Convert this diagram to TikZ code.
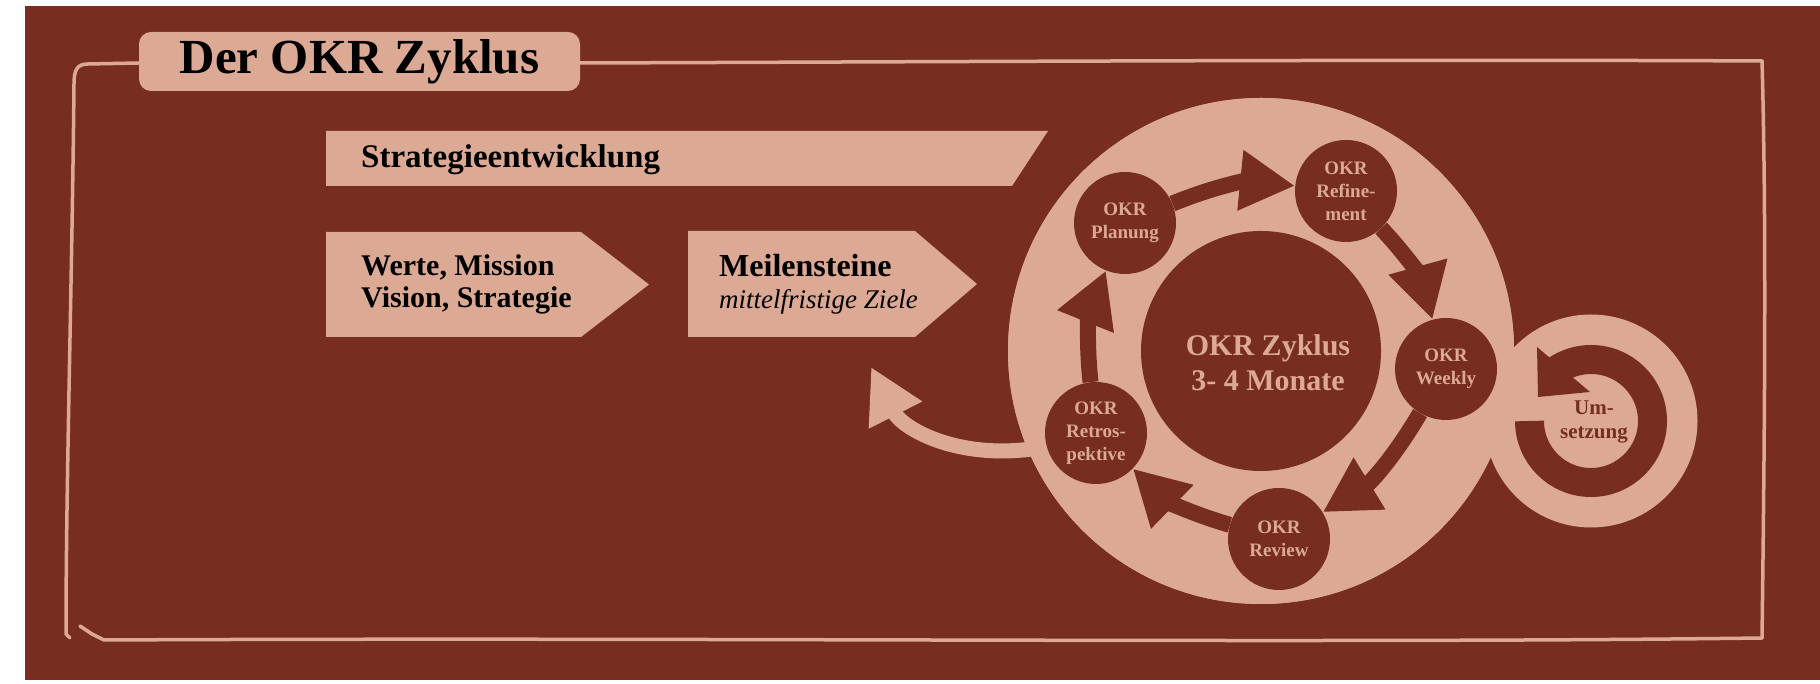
\documentclass[tikz,border=0pt]{standalone}
\usepackage{fontspec}
\setmainfont{Liberation Serif}
\usetikzlibrary{arrows.meta,calc}
\definecolor{okrdark}{HTML}{772E21}
\definecolor{okrlight}{HTML}{DCAA94}
\begin{document}
\begin{tikzpicture}[x=1pt,y=1pt,
  framestroke/.style={okrlight, line width=3.5pt, line cap=round, line join=round},
  stage/.style={circle, fill=okrdark, minimum size=102pt, inner sep=0pt, text=okrlight,
    font=\fontsize{19}{23}\selectfont\bfseries, align=center},
  cyc/.style={okrdark, line width=16pt, -{Triangle[length=55pt,width=57pt]}},
  boxtext/.style={font=\fontsize{30}{32}\selectfont\bfseries, align=left, text=black, inner sep=0pt},
  panel/.style={fill=okrlight, draw=none},
]
\useasboundingbox (0,0) rectangle (1820,684);
\fill[white] (0,0) rectangle (1820,684);
\fill[okrdark] (25,4) rectangle (1820,678);

% hand drawn frame
\draw[framestroke] (580,621) .. controls (900,622) and (1400,625) .. (1762,623);
\draw[framestroke] (1762,623) .. controls (1767,450) and (1764,200) .. (1762,46);
\draw[framestroke] (1762,46) .. controls (1300,40) and (700,47) .. (104,44) -- (92,50) -- (80,58);
\draw[framestroke] (139,621) -- (88,620) .. controls (77,620) and (74,614) .. (74,600)
   .. controls (72,400) and (66,200) .. (66,50) -- (70,46);

% title
\node[fill=okrlight, rounded corners=12pt, minimum width=441pt, minimum height=59pt,
  font=\fontsize{49}{52}\selectfont\bfseries, text=black] (title) at (359.5,622.5) {Der OKR Zyklus};

% strategy banners
\fill[panel] (326,553) -- (1048,553) -- (1012,498) -- (326,498) -- cycle;
\node[boxtext, font=\fontsize{33}{34}\selectfont\bfseries, anchor=base west] (strat) at (361,516) {Strategieentwicklung};

\fill[panel] (326,452) -- (581,452) -- (649,399.5) -- (581,347) -- (326,347) -- cycle;
\node[boxtext, anchor=west] (werte) at (361,400) {Werte, Mission\\Vision, Strategie};

\fill[panel] (688,453) -- (915,453) -- (977,400) -- (915,347) -- (688,347) -- cycle;
\node[boxtext, anchor=west] (meilen) at (719,400)
  {\fontsize{32}{32}\selectfont Meilensteine\\{\fontsize{27}{32}\selectfont\mdseries\itshape mittelfristige Ziele}};

% cycle
\node[circle, fill=okrlight, minimum size=506pt, inner sep=0pt] (big) at (1261,333) {};
\coordinate (looptip) at (871,317);
\draw[okrlight, line width=15pt, -{Triangle[length=54pt,width=56pt]}, shorten <=-15pt]
  (big.203) to[out=190, in=-63] (looptip);

\node[circle, fill=okrlight, minimum size=213pt, inner sep=0pt] (umsetz) at (1591,263) {};
\node[circle, fill=okrlight, minimum size=506pt, inner sep=0pt] (bigtop) at (1261,333) {};

\node[circle, fill=okrdark, minimum size=240pt, inner sep=0pt,
  label={[text=okrlight, font=\fontsize{30}{35}\selectfont\bfseries, align=center, xshift=7pt, yshift=-12pt]center:OKR Zyklus\\3- 4 Monate}] (core) at (1261,333) {};

\node[stage] (plan) at (1125,461) {OKR\\Planung};
\node[stage] (refine) at (1346,493) {OKR\\Refine-\\ment};
\node[stage] (weekly) at (1446,315) {OKR\\Weekly};
\node[stage] (review) at (1279,145) {OKR\\Review};
\node[stage] (retro) at (1096,251) {OKR\\Retros-\\pektive};

\draw[cyc] (plan) to[bend left=14] (refine);
\draw[cyc] (refine) to[bend left=14] (weekly);
\draw[cyc] (weekly) to[bend left=14] (review);
\draw[cyc] (review) to[bend left=14] (retro);
\draw[cyc] (retro) to[bend left=14] (plan);

% Umsetzung loop
\draw[okrdark, line width=29pt] ($(umsetz.center)+(180:61.5)$) arc[start angle=180, end angle=485, radius=61.5];
\fill[okrdark] ($(umsetz.center)+(-54,74)$) -- ($(umsetz.center)+(-53,24)$) -- ($(umsetz.center)+(-1,29)$) -- cycle;
\node[text=okrdark, font=\fontsize{21}{24}\selectfont\bfseries, align=center, inner sep=0pt] (umtext) at (1594,262) {Um-\\setzung};
\end{tikzpicture}
\end{document}
